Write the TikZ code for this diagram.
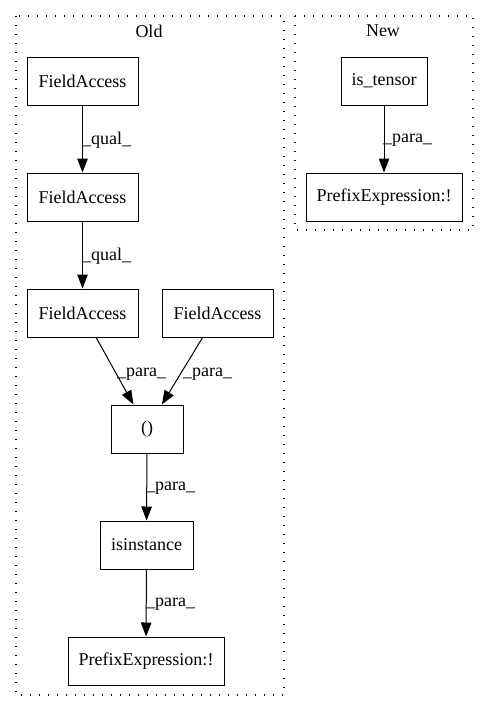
\documentclass[tikz,border=0pt]{standalone}
\usepackage{fontspec}
\setmainfont{Liberation Serif}
\usetikzlibrary{arrows.meta}
\begin{document}
\begin{tikzpicture}[x=1pt,y=-1pt,
  every node/.style={font=\fontsize{18}{21}\selectfont},
  box/.style={draw, line width=1pt, minimum height=48pt, inner sep=0pt},
  cluster/.style={draw, line width=1.3pt, dash pattern=on 1.4pt off 7.6pt},
  edge/.style={draw, line width=1pt, -{Triangle[length=14pt,width=10.5pt]}},
  elabel/.style={anchor=west, inner sep=0pt}]
\useasboundingbox (0,0) rectangle (489,712);
% clusters
\draw[cluster] (16,16) rectangle (284,695);
\draw[cluster] (295,16) rectangle (473,230);
\node (oldt) at (149,31) {Old};
\node (newt) at (383,31) {New};
% nodes
\node[box, minimum width=111pt] (fa1) at (82.5,81) {FieldAccess};
\node[box, minimum width=111pt] (fa2) at (82.5,197) {FieldAccess};
\node[box, minimum width=111pt] (fa3) at (82.5,313) {FieldAccess};
\node[box, minimum width=111pt] (fa4) at (217.5,313) {FieldAccess};
\node[box, minimum width=72pt] (par) at (147,429) {()};
\node[box, minimum width=93pt] (isi) at (146.5,545) {isinstance};
\node[box, minimum width=156pt] (pre1) at (146,661) {PrefixExpression:!};
\node[box, minimum width=86pt] (ist) at (384,81) {is\_tensor};
\node[box, minimum width=156pt] (pre2) at (384,197) {PrefixExpression:!};
% edges
\draw[edge] (fa1) -- (fa2);
\draw[edge] (fa2) -- (fa3);
\draw[edge] (fa3) -- (par);
\draw[edge] (fa4) -- (par);
\draw[edge] (par) -- (isi);
\draw[edge] (isi) -- (pre1);
\draw[edge] (ist) -- (pre2);
% edge labels
\node[elabel] (l1) at (82,140) {\_qual\_};
\node[elabel] (l2) at (82,256) {\_qual\_};
\node[elabel] (l3) at (117,374) {\_para\_};
\node[elabel] (l4) at (183,374) {\_para\_};
\node[elabel] (l5) at (146,488) {\_para\_};
\node[elabel] (l6) at (146,604) {\_para\_};
\node[elabel] (l7) at (383,140) {\_para\_};
\end{tikzpicture}
\end{document}
